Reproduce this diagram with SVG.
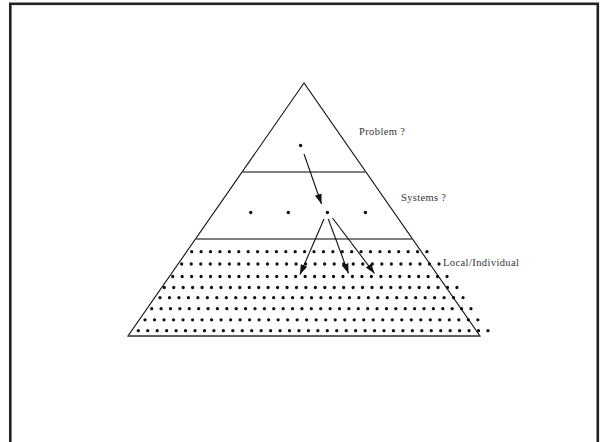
<svg xmlns="http://www.w3.org/2000/svg" width="600" height="442" viewBox="0 0 600 442">
<style>
.frame{fill:none;stroke:#222;stroke-width:2.6}
.tri{fill:none;stroke:#111;stroke-width:1.1}
.div{stroke:#555;stroke-width:1.4}
.dot{fill:#111}
.row{fill:none;stroke:#111;stroke-width:3.3;stroke-linecap:round}
.lbl{font-family:"Liberation Serif","Times New Roman",serif;font-size:10.5px;fill:#333}
.arr{fill:none;stroke:#111;stroke-width:1.1;marker-end:url(#ah)}
</style>
<defs>
<marker id="ah" viewBox="0 0 10 7" refX="10" refY="3.5" markerWidth="10" markerHeight="7" markerUnits="userSpaceOnUse" orient="auto">
<path d="M0,0 L10,3.5 L0,7 z" fill="#111"/>
</marker>
</defs>
<rect width="600" height="442" fill="#fff"/>
<rect class="frame" x="10.3" y="3.8" width="587.5" height="450"/>
<g id="pyramid">
<path class="tri" d="M304,83 L128,336 L480,336 Z"/>
<line class="div" x1="242" y1="172" x2="366" y2="172"/>
<line class="div" x1="195.5" y1="239" x2="412.5" y2="239"/>
<line class="div" x1="128" y1="336" x2="480" y2="336"/>
</g>
<g id="problem">
<circle class="dot" cx="300.6" cy="145.5" r="1.7"/>
<text class="lbl" x="359" y="135" textLength="46" lengthAdjust="spacing">Problem ?</text>
</g>
<g id="systems">
<circle class="dot" cx="250.7" cy="212.5" r="1.7"/>
<circle class="dot" cx="288.3" cy="212.5" r="1.7"/>
<circle class="dot" cx="327.4" cy="212.5" r="1.7"/>
<circle class="dot" cx="365.4" cy="212.5" r="1.7"/>
<text class="lbl" x="401" y="201" textLength="45" lengthAdjust="spacing">Systems ?</text>
</g>
<g id="local">
<line class="row" stroke-dasharray="0 9.41" x1="191.7" y1="251.7" x2="427.1" y2="251.7"/>
<line class="row" stroke-dasharray="0 9.53" x1="181.7" y1="264" x2="439.1" y2="264"/>
<line class="row" stroke-dasharray="0 9.46" x1="172.7" y1="276.5" x2="447.1" y2="276.5"/>
<line class="row" stroke-dasharray="0 9.44" x1="164.3" y1="287.5" x2="457" y2="287.5"/>
<line class="row" stroke-dasharray="0 9.47" x1="160" y1="297.7" x2="463.1" y2="297.7"/>
<line class="row" stroke-dasharray="0 9.39" x1="151.7" y1="308.7" x2="471.1" y2="308.7"/>
<line class="row" stroke-dasharray="0 9.51" x1="145" y1="319.8" x2="478" y2="319.8"/>
<line class="row" stroke-dasharray="0 9.45" x1="138.3" y1="330.7" x2="488.1" y2="330.7"/>
<text class="lbl" x="443" y="266" textLength="76" lengthAdjust="spacing">Local/Individual</text>
</g>
<g id="connectors">
<line class="arr" x1="304" y1="154" x2="321.5" y2="204"/>
<line class="arr" x1="324" y1="219" x2="300" y2="274.5"/>
<line class="arr" x1="328.3" y1="219" x2="348.5" y2="273.5"/>
<line class="arr" x1="332.5" y1="218" x2="374.5" y2="273.5"/>
</g>
</svg>
